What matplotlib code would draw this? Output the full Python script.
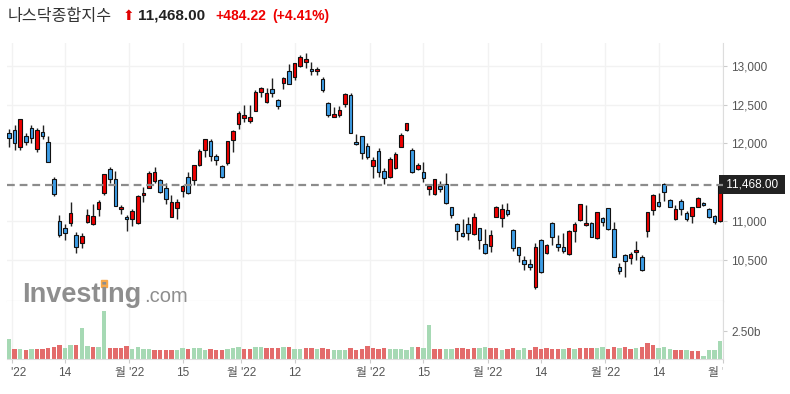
import numpy as np
import matplotlib.pyplot as plt
from matplotlib.patches import Rectangle
from matplotlib.transforms import Bbox, TransformedBbox, blended_transform_factory

plt.rcParams['font.family'] = ['Liberation Sans', 'Noto Sans CJK KR', 'DejaVu Sans']

# daily candles, 31 May - 30 Nov 2022
opens = np.array([
    12139, 12170, 11951, 12093, 12196, 11925, 12148, 12015, 11542, 11000,
    10910, 10978, 10816, 10712, 10983, 10957, 11151, 11357, 11671, 11542,
    11151, 11048, 11022, 10970, 11332, 11430, 11512, 11529, 11422, 11055,
    11164, 11383, 11568, 11525, 11726, 11912, 12036, 11839, 11710, 11752,
    12045, 12247, 12325, 12286, 12423, 12668, 12539, 12703, 12561, 12784,
    12935, 12861, 12996, 13055, 12961, 12931, 12828, 12526, 12345, 12371,
    12505, 12625, 12015, 12097, 11968, 11713, 11903, 11645, 11564, 11680,
    11958, 12174, 11912, 11671, 11632, 11409, 11344, 11452, 11477, 11181,
    10957, 10845, 10957, 10832, 10910, 10703, 10674, 11055, 11035, 11142,
    10884, 10661, 10497, 10445, 10145, 10755, 10583, 10978, 10703, 10661,
    10574, 10875, 11013, 10948, 10978, 10777, 11035, 11164, 10893, 10403,
    10558, 10527, 10596, 10532, 10875, 11142, 11241, 11477, 11271, 11022,
    11258, 11107, 11068, 11184, 11228, 11155, 11065, 11004])
highs = np.array([
    12183, 12238, 12312, 12131, 12238, 12196, 12238, 12100, 11571, 11074,
    10957, 11241, 10854, 10849, 11155, 11215, 11271, 11606, 11693, 11645,
    11206, 11077, 11151, 11335, 11442, 11645, 11693, 11538, 11486, 11335,
    11280, 11464, 11636, 11722, 11933, 12062, 12054, 11860, 11719, 12036,
    12174, 12415, 12493, 12493, 12690, 12732, 12712, 12841, 12574, 12854,
    13021, 13042, 13141, 13171, 13047, 12990, 12854, 12535, 12474, 12487,
    12647, 12655, 12118, 12097, 12002, 11829, 11938, 11680, 11822, 11894,
    12131, 12268, 11938, 11752, 11761, 11468, 11546, 11520, 11615, 11184,
    10970, 11026, 11048, 11099, 10910, 10893, 10884, 11194, 11215, 11228,
    10897, 10668, 10548, 10506, 10712, 10764, 10703, 10991, 10819, 10841,
    10884, 10991, 11219, 11206, 10991, 11120, 11055, 11172, 10991, 10454,
    10574, 10604, 10746, 10561, 11120, 11348, 11357, 11494, 11280, 11206,
    11280, 11133, 11184, 11313, 11249, 11164, 11077, 11468])
lows = np.array([
    11951, 11916, 11916, 11980, 12002, 11894, 12054, 11757, 11326, 10790,
    10755, 10935, 10583, 10648, 10970, 10948, 11065, 11335, 11494, 11190,
    11090, 10871, 10935, 10961, 11249, 11422, 11494, 11357, 11219, 11048,
    11026, 11313, 11348, 11468, 11710, 11826, 11770, 11719, 11551, 11722,
    11886, 12183, 12277, 12260, 12423, 12603, 12526, 12603, 12441, 12703,
    12763, 12819, 12990, 12970, 12883, 12883, 12668, 12345, 12338, 12345,
    12467, 12139, 11980, 11796, 11796, 11551, 11571, 11477, 11559, 11667,
    11951, 12165, 11615, 11658, 11499, 11332, 11335, 11378, 11219, 11035,
    10755, 10797, 10755, 10819, 10635, 10574, 10596, 11048, 10919, 11065,
    10617, 10475, 10368, 10368, 10119, 10333, 10574, 10690, 10613, 10591,
    10565, 10733, 11004, 10939, 10790, 10768, 10935, 10884, 10532, 10316,
    10274, 10445, 10497, 10359, 10790, 11077, 11177, 11262, 11177, 11013,
    11077, 11004, 10978, 11177, 11194, 11035, 10961, 10991])
closes = np.array([
    12075, 12002, 12312, 12015, 12067, 12170, 12093, 11757, 11344, 10816,
    10841, 11099, 10661, 10806, 11074, 11061, 11241, 11606, 11542, 11190,
    11177, 11022, 11125, 11323, 11361, 11619, 11636, 11378, 11280, 11248,
    11251, 11452, 11365, 11719, 11899, 12054, 11835, 11783, 11564, 12032,
    12165, 12397, 12364, 12338, 12660, 12712, 12655, 12647, 12487, 12841,
    12771, 13034, 13119, 13086, 12931, 12961, 12690, 12367, 12380, 12428,
    12638, 12139, 11989, 11881, 11822, 11787, 11636, 11551, 11800, 11864,
    12109, 12260, 11636, 11722, 11559, 11452, 11538, 11417, 11228, 11074,
    10875, 10810, 10841, 11055, 10755, 10583, 10816, 11184, 11151, 11086,
    10656, 10558, 10441, 10410, 10661, 10338, 10690, 10797, 10668, 10617,
    10871, 10961, 11215, 10978, 10797, 11112, 10991, 10893, 10539, 10359,
    10488, 10570, 10626, 10368, 11112, 11335, 11197, 11370, 11184, 11151,
    11151, 11026, 11177, 11293, 11203, 11055, 10984, 11468])
prev_close = 10983.78

# volume in billions, 'u' = green bar, 'd' = red bar
volumes = np.array([
    1.78, 0.87, 0.87, 0.78, 0.87, 0.87, 0.87, 0.96, 1.05, 1.26,
    0.96, 1.26, 1.26, 2.77, 1.17, 1.05, 1.05, 4.33, 0.96, 0.96,
    0.96, 1.17, 0.87, 1.05, 0.87, 0.87, 0.78, 0.78, 0.78, 0.78,
    0.78, 0.96, 0.87, 0.96, 0.96, 0.78, 0.87, 0.78, 0.78, 0.87,
    0.96, 1.05, 0.87, 0.87, 1.05, 1.05, 0.96, 0.96, 0.96, 1.05,
    1.05, 0.87, 0.87, 0.96, 0.96, 0.87, 0.96, 0.87, 0.78, 0.78,
    0.78, 0.96, 0.78, 0.87, 1.17, 0.96, 0.87, 0.96, 0.87, 0.87,
    0.87, 0.78, 1.05, 1.05, 0.96, 3.07, 0.87, 0.87, 0.87, 0.87,
    0.96, 0.96, 0.87, 0.96, 0.96, 1.05, 0.96, 0.96, 0.78, 0.87,
    0.96, 0.78, 0.96, 0.78, 1.05, 0.87, 0.96, 0.87, 0.87, 0.87,
    0.96, 0.87, 0.96, 0.96, 0.96, 0.96, 1.05, 0.87, 1.05, 0.96,
    1.05, 0.87, 0.96, 1.05, 1.41, 1.26, 0.96, 1.05, 0.87, 0.78,
    0.78, 0.78, 0.69, 0.69, 0.27, 0.78, 0.78, 1.63])
vol_dir = ("udududdddd" "uuduuduudd" "dduuuudddd" "uuduuudddu" "uudduudddu"
           "duudduddu" "uuddddddd" "uuuuuduudduu" "ddddu" "uddudduudd"
           "ddddududdd" "uudduddudd" "duuuddudd" "uuuuud" "ddddu")

tick_pos = [0.5, 10, 21.5, 31, 41.5, 51, 64.5, 74, 85.5, 95, 106.5, 116, 127.5]
tick_labels = ["월 '22", "14", "월 '22", "15", "월 '22", "12", "월 '22",
               "15", "월 '22", "14", "월 '22", "14", "월 '22"]
price_ticks = [10500, 11000, 12000, 12500, 13000]
price_labels = ["10,500", "11,000", "12,000", "12,500", "13,000"]

last = closes[-1]
chg = last - prev_close
pct = chg / prev_close * 100

W, H = 790, 394
fig = plt.figure(figsize=(W / 100, H / 100), dpi=100)
axp = fig.add_axes([7 / W, 93 / H, 716 / W, 258 / H])
axv = fig.add_axes([7 / W, 35 / H, 716 / W, 58 / H], sharex=axp)

x = np.arange(len(closes))
up = closes >= opens
body_col = np.where(up, '#ee0000', '#3d9de6')

axp.vlines(x, lows, highs, color='#222222', lw=1.0, zorder=2)
axp.bar(x, np.abs(closes - opens), bottom=np.minimum(opens, closes), width=0.62,
        color=body_col, edgecolor='#111111', linewidth=0.8, zorder=3)
axp.axhline(last, color='#8c8c8c', lw=1.6, dashes=(3.5, 2.2), zorder=4)

axp.set_xlim(-0.36, 127.5)
axp.set_ylim(9968, 13296)
axp.yaxis.tick_right()
axp.set_yticks(price_ticks, price_labels)
axp.tick_params(axis='y', length=3, color='#cccccc', labelsize=8.5,
                labelcolor='#555555', pad=3)
axp.tick_params(axis='x', length=0, labelbottom=False)
axp.grid(color='#f2f2f2', lw=1)
axp.set_axisbelow(True)
for s in ['top', 'left']:
    axp.spines[s].set_visible(False)
axp.spines['right'].set_color('#dddddd')
axp.spines['bottom'].set_color('#cfcfcf')

trans = blended_transform_factory(axp.transAxes, axp.transData)
axp.text(1.0, last, f' {last:,.2f} ', transform=trans, ha='left', va='center',
         color='white', fontsize=8.5,
         bbox=dict(boxstyle='square,pad=0.3', fc='#222222', ec='none'))

vcol = ['#a6d9b4' if d == 'u' else '#e36b6b' for d in vol_dir]
axv.bar(x, volumes, width=0.78, color=vcol, zorder=2)
axv.set_ylim(0, 5.23)
axv.yaxis.tick_right()
axv.set_yticks([2.5], ['2.50b'])
axv.tick_params(axis='y', length=3, color='#cccccc', labelsize=8.5,
                labelcolor='#555555', pad=3)
axv.set_xticks(tick_pos, tick_labels)
axv.tick_params(axis='x', length=3, color='#cccccc', labelsize=8.5,
                labelcolor='#555555', pad=3)
axv.grid(axis='x', color='#f2f2f2', lw=1)
axv.set_axisbelow(True)
for s in ['top', 'left']:
    axv.spines[s].set_visible(False)
axv.spines['right'].set_color('#dddddd')
axv.spines['bottom'].set_color('#dddddd')
axp.set_xticks(tick_pos)

# tick labels are cut at the plot edges, as in the original
clip = TransformedBbox(Bbox([[0, -2], [1, 2]]), axv.transAxes)
for lab in axv.get_xticklabels():
    lab.set_clip_box(clip)
    lab.set_clip_on(True)

# header
fy = 1 - 16 / H
fig.text(8 / W, fy, '나스닥종합지수', fontsize=11.6, color='#333333', va='center')
fig.text(122.5 / W, fy, '⬆', fontsize=10, color='#e00000', va='center',
         family='DejaVu Sans')
fig.text(138 / W, fy, f'{last:,.2f}', fontsize=11, fontweight='bold',
         color='#222222', va='center')
fig.text(215 / W, fy, f'+{chg:,.2f}', fontsize=10, fontweight='bold',
         color='#ee0000', va='center')
fig.text(272 / W, fy, f'(+{pct:.2f}%)', fontsize=10, fontweight='bold',
         color='#ee0000', va='center')

# watermark, with the orange dot over the second "i"
logo = dict(fontsize=19.5, fontweight='bold', color='#8e8e8e', va='baseline')
base = 1 - 302 / H
fig.text(22 / W, base, 'Investing', **logo)
fig.text(144 / W, base, '.com', fontsize=14.5, color='#8e8e8e', va='baseline')
r = fig.canvas.get_renderer()
w_pre = fig.text(0, 0, 'Invest', **logo).get_window_extent(r).width
w_i = fig.text(0, 0, 'Investi', **logo).get_window_extent(r).width - w_pre
for t in fig.texts[-2:]:
    t.remove()
fig.patches.append(Rectangle(((22 + w_pre + 0.5) / W, 1 - 286.5 / H),
                             (w_i - 1) / W, 6.5 / H,
                             transform=fig.transFigure, color='#f6a84b'))

fig.savefig('out.png', dpi=100)
